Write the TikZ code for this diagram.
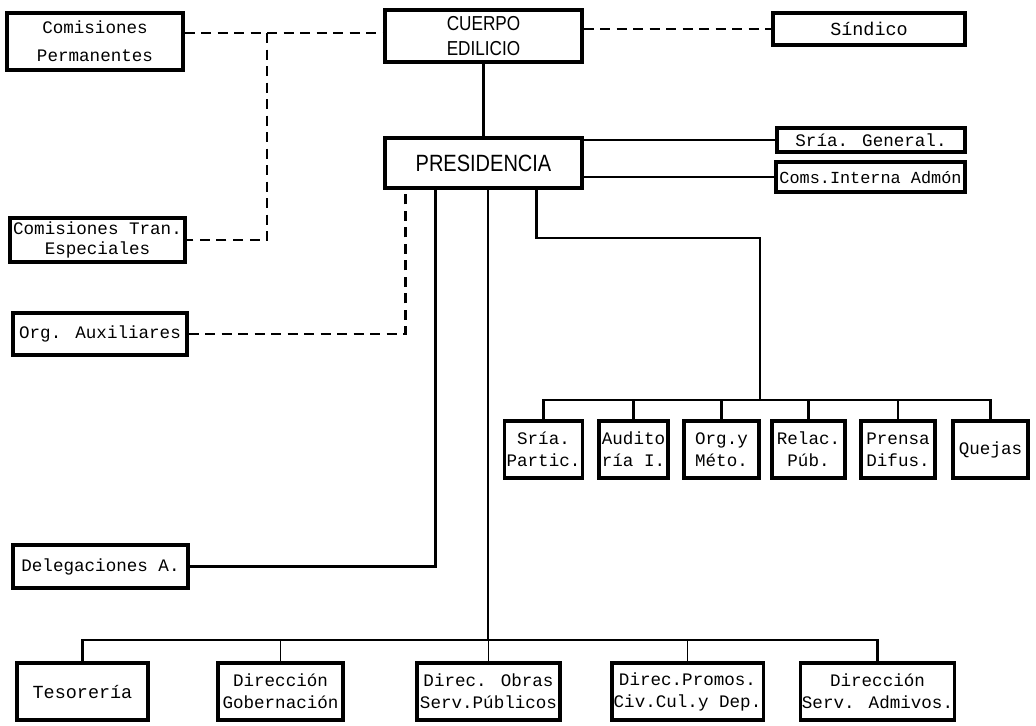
\documentclass[tikz,border=0pt]{standalone}
\usepackage{fontspec}
\setmainfont{Liberation Mono}
\newfontfamily\letrafont[FakeStretch=0.85]{Liberation Sans}
\usetikzlibrary{calc}

\begin{document}
\begin{tikzpicture}[x=0.2mm,y=-0.2mm,
  box/.style={rectangle, draw, line width=1.8pt, inner sep=1pt, align=center,
    font=\fontsize{10}{12.5}\selectfont},
  smallbox/.style={box, minimum height=11.4mm},
  solidline/.style={line width=1.6pt},
  thinline/.style={line width=0.9pt},
  dashline/.style={line width=1.5pt, dash pattern=on 2mm off 1.3mm}]

\useasboundingbox (0,0) rectangle (1036,725);

\node[box, minimum width=35.2mm, minimum height=11.4mm,
      font=\fontsize{10}{16}\selectfont]
  (cperm) at (95,41.5) {Comisiones\\Permanentes};
\node[box, minimum width=39.4mm, minimum height=10.4mm,
      font=\letrafont\fontsize{11.5}{14}\selectfont]
  (cuerpo) at (483.5,36) {CUERPO\\EDILICIO};
\node[box, minimum width=38.4mm, minimum height=6.4mm,
      font=\fontsize{10.5}{12}\selectfont]
  (sind) at (869,29) {Síndico};

\node[box, minimum width=35mm, minimum height=8.8mm,
      font=\fontsize{10}{11}\selectfont]
  (ctran) at (97.5,240) {Comisiones Tran.\\Especiales};
\node[box, minimum width=34.8mm, minimum height=8.4mm]
  (orgaux) at (100,334) {Org. Auxiliares};

\node[box, minimum width=39.4mm, minimum height=10mm,
      font=\letrafont\fontsize{13.4}{15}\selectfont]
  (pres) at (483.5,163) {PRESIDENCIA};
\node[box, minimum width=37.6mm, minimum height=4.8mm]
  (sgral) at (871,140) {Sría. General.};
\node[box, minimum width=37.8mm, minimum height=6mm,
      font=\fontsize{9.6}{12}\selectfont]
  (cint) at (870.5,177) {Coms.Interna Admón};

\node[smallbox, minimum width=15.4mm] (partic) at (543.5,449.5) {Sría.\\Partic.};
\node[smallbox, minimum width=13.8mm] (audit) at (633.5,449.5) {Audito\\ría I.};
\node[smallbox, minimum width=15mm] (org) at (721.5,449.5) {Org.y\\Méto.};
\node[smallbox, minimum width=14.6mm] (relac) at (808.5,449.5) {Relac.\\Púb.};
\node[smallbox, minimum width=14.8mm] (prensa) at (898,449.5) {Prensa\\Difus.};
\node[smallbox, minimum width=15mm] (quejas) at (990.5,449.5) {Quejas};

\node[box, minimum width=35mm, minimum height=8.6mm]
  (deleg) at (100.5,566.5) {Delegaciones A.};

\node[smallbox, minimum width=26.2mm, font=\fontsize{10.5}{12}\selectfont]
  (tes) at (82.5,691.5) {Tesorería};
\node[smallbox, minimum width=25mm] (gob) at (280.5,691.5) {Dirección\\Gobernación};
\node[smallbox, minimum width=28.6mm] (obras) at (488.5,691.5) {Direc. Obras\\Serv.Públicos};
\node[smallbox, minimum width=29mm] (promos) at (687.5,691.5) {Direc.Promos.\\Civ.Cul.y Dep.};
\node[smallbox, minimum width=29mm] (admin) at (877.5,691.5) {Dirección\\Serv. Admivos.};

\coordinate (jcom) at (267,33);
\coordinate (kneeS) at (760,238);
\coordinate (busS) at (760,400);
\coordinate (busB) at (488,640);

\draw[dashline] (cperm.east |- jcom) -- (cuerpo.west |- jcom);
\draw[dashline] (jcom) |- (ctran.east);
\draw[dashline] (cuerpo.east |- sind.west) -- (sind.west);
\draw[dashline] (orgaux.east) -| ($(pres.south west)+(22,0)$);

\draw[solidline] (cuerpo.south) -- (pres.north);
\draw[solidline] (pres.east |- sgral.west) -- (sgral.west);
\draw[solidline] (pres.east |- cint.west) -- (cint.west);

\draw[solidline] (deleg.east) -| ($(pres.south west)+(52,0)$);
\draw[thinline] (pres.south -| busB) -- (busB);
\draw[solidline] (tes.north) |- (busB) -| (admin.north);
\foreach \n in {gob,obras,promos}
  \draw[thinline] (\n.north) -- (\n.north |- busB);

\draw[solidline] ($(pres.south west)+(153,0)$) |- (kneeS) -- (busS);
\draw[solidline] (partic.north) |- (busS) -| (quejas.north);
\foreach \n in {audit,org,relac,prensa}
  \draw[solidline] (\n.north) -- (\n.north |- busS);
\end{tikzpicture}
\end{document}
